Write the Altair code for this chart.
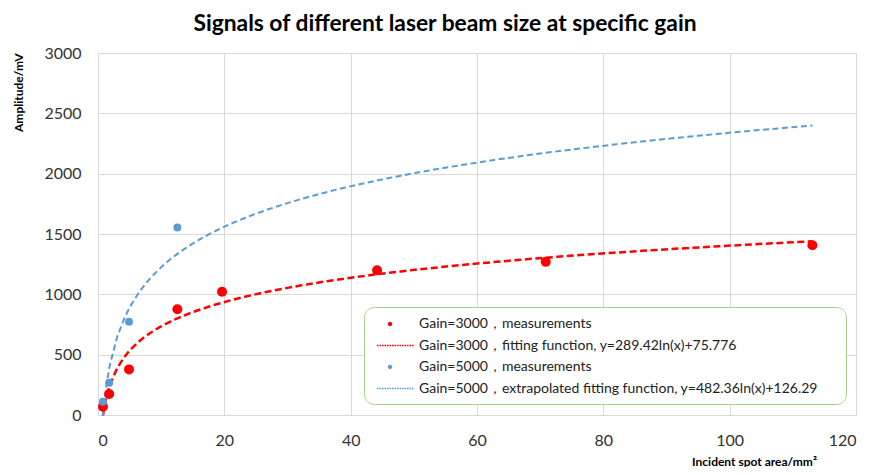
import altair as alt
import pandas as pd

# ---- data ----
spot_area_3000 = [0.785, 1.767, 4.909, 12.566, 19.635, 44.179, 70.882, 113.097]
amp_3000 = [69, 174, 378, 877, 1021, 1200, 1269, 1407]
spot_area_5000 = [0.785, 1.767, 4.909, 12.566]
amp_5000 = [110, 267, 772, 1554]
gains = [3000, 5000]
series_labels = [
    "Gain=3000，measurements",
    "Gain=3000，fitting function, y=289.42ln(x)+75.776",
    "Gain=5000，measurements",
    "Gain=5000，extrapolated fitting function, y=482.36ln(x)+126.29",
]
series_colors = ["#FF0000", "#FF0000", "#5B9BD5", "#5B9BD5"]
x_ticks = [0, 20, 40, 60, 80, 100, 120]
y_ticks = [0, 500, 1000, 1500, 2000, 2500, 3000]

FONT = "Lato"

df3000 = pd.DataFrame({"x": spot_area_3000, "y": amp_3000, "series": series_labels[0]})
df5000 = pd.DataFrame({"x": spot_area_5000, "y": amp_5000, "series": series_labels[2]})
meas = pd.concat([df3000, df5000], ignore_index=True)

# legend symbol paths (unit coords, 1 unit = sqrt(symbolSize)/2 px)
dot_path = "M0.756,0A0.244,0.244 0 1,0 1.244,0A0.244,0.244 0 1,0 0.756,0Z"
segs = []
xs = -0.444
while xs < 3.5:
    segs.append(f"M{xs:.3f},-0.09h0.17v0.18h-0.17Z")
    xs += 0.278
line_path = "".join(segs)

legend = alt.Legend(
    title="\u00a0", titleOrient="right", titlePadding=20, titleFontSize=2,
    orient="none", legendX=266, legendY=254, padding=8,
    fillColor="white", strokeColor="#A9D18E", cornerRadius=10,
    symbolSize=324, symbolStrokeWidth=0, labelOffset=29,
    labelFontSize=14, labelFont=FONT, labelColor="#222222",
    rowPadding=5.5, labelLimit=600,
)

X = alt.X(
    "x:Q",
    scale=alt.Scale(domain=[0, 120], nice=False),
    axis=alt.Axis(
        values=x_ticks, format="d", title="Incident spot area/mm²", titleX=656, titleY=46,
        titleAlign="center", titleBaseline="middle", labelPadding=17,
    ),
)
Y = alt.Y(
    "y:Q",
    scale=alt.Scale(domain=[0, 3000], nice=False),
    axis=alt.Axis(
        values=y_ticks, format="d", title="Amplitude/mV", titleAnchor="end", titleAngle=-90,
        titleX=-80, titleY=0, titleAlign="right", titleBaseline="middle",
        labelPadding=17,
    ),
)
C = alt.Color("series:N", scale=alt.Scale(domain=series_labels, range=series_colors), legend=legend)
S = alt.Shape("series:N", scale=alt.Scale(domain=series_labels,
              range=[dot_path, line_path, dot_path, line_path]), legend=legend)

legend_driver = alt.Chart(meas).mark_point(filled=True, opacity=1).encode(
    x=X, y=Y, color=C, shape=S).transform_filter("false")

pts3000 = alt.Chart(df3000).mark_circle(size=100, opacity=1).encode(x=X, y=Y, color=C)
pts5000 = alt.Chart(df5000).mark_circle(size=64, opacity=1).encode(x=X, y=Y, color=C)

fit_base = alt.Chart(df3000).transform_regression(
    "x", "y", method="log", extent=[min(spot_area_3000), max(spot_area_3000)])
fit3000 = fit_base.transform_calculate(series=f"'{series_labels[1]}'").mark_line(
    strokeWidth=2.5, strokeDash=[7, 3.5]).encode(x=X, y=Y, color=C)
fit5000 = fit_base.transform_calculate(
    y=f"datum.y*{gains[1]}/{gains[0]}", series=f"'{series_labels[3]}'").mark_line(
    strokeWidth=2, strokeDash=[6, 3.5]).encode(x=X, y=Y, color=C)

chart = alt.layer(legend_driver, fit3000, fit5000, pts3000, pts5000).properties(
    width=758, height=362,
    padding={"left": 90, "top": 45, "right": 8, "bottom": 52},
    autosize="none",
    title=alt.Title("Signals of different laser beam size at specific gain",
                    fontSize=22.8, font=FONT, fontWeight="bold", color="black",
                    anchor="middle", dx=-32, dy=9, offset=0, baseline="alphabetic"),
).configure_view(stroke=None).configure_axis(
    grid=True, gridColor="#D9D9D9", gridWidth=1, domain=False, ticks=False,
    labelFont=FONT, labelFontSize=16, labelColor="#333333",
    titleFont=FONT, titleFontSize=12, titleFontWeight="bold", titleColor="black",
)

chart.save("out.html", embed_options={"renderer": "svg", "actions": False})
